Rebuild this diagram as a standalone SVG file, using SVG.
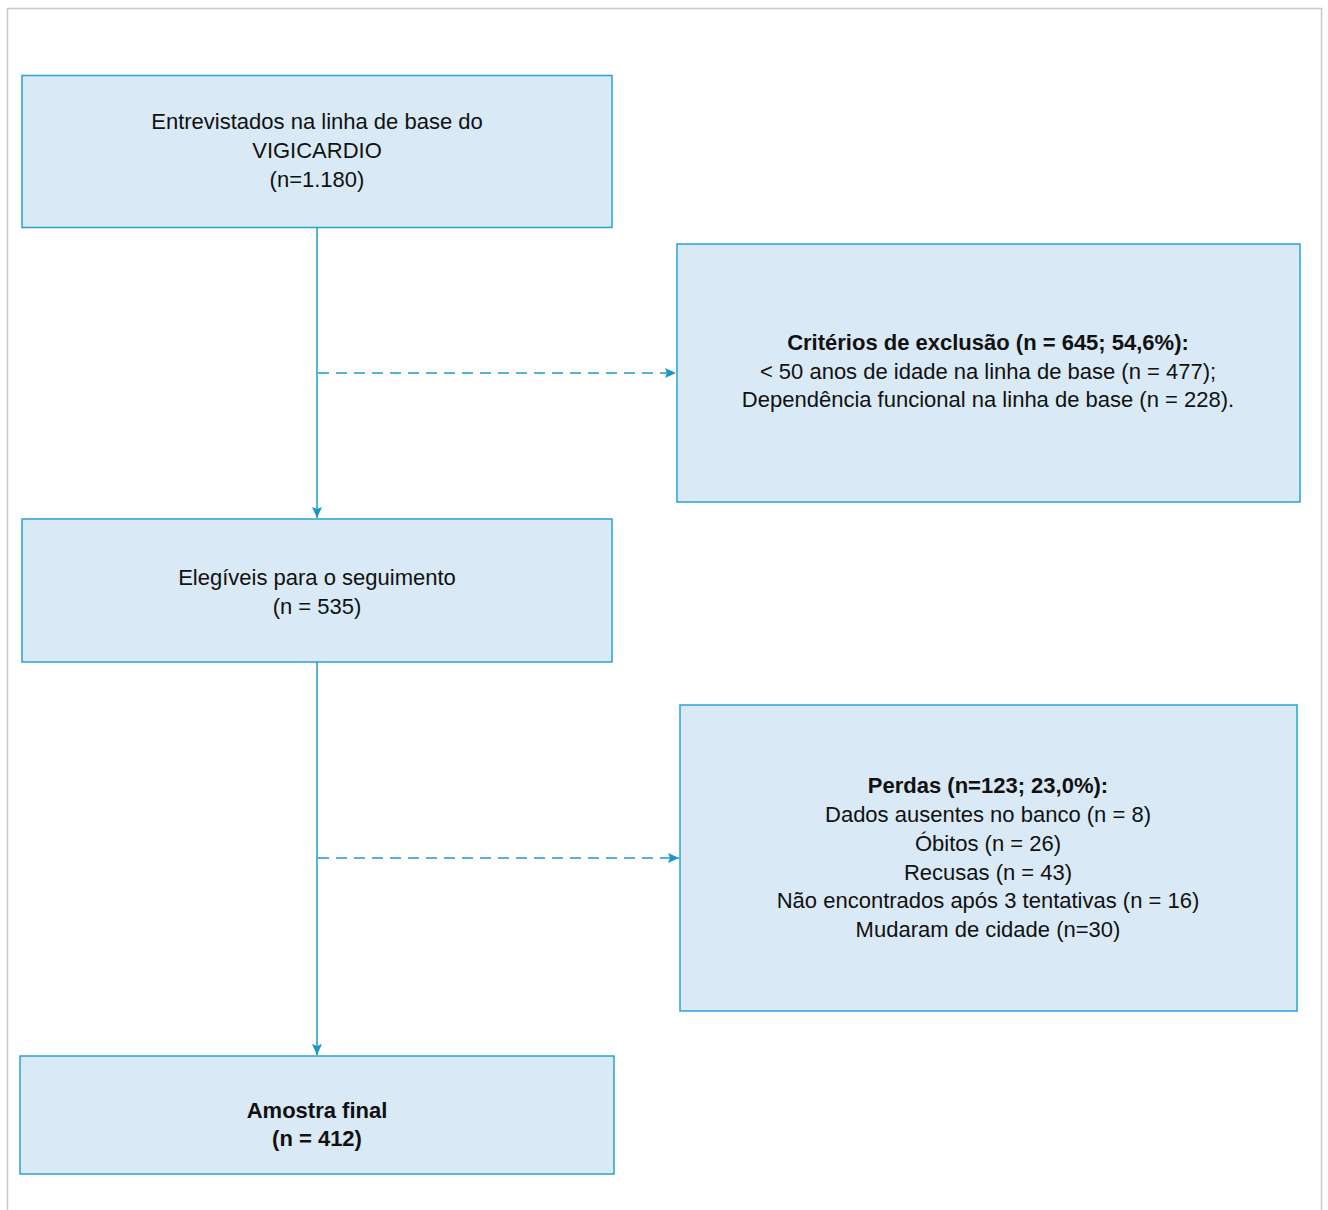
<svg xmlns="http://www.w3.org/2000/svg" width="1328" height="1210" viewBox="0 0 1328 1210">
<style>
.box{fill:#d9e9f5;stroke:#28a2d2;stroke-width:1.5}
.t{font-family:"Liberation Sans",Arial,sans-serif;font-size:22px;fill:#111;text-anchor:middle}
.b{font-weight:bold}
.c{stroke:#1f9bcc;stroke-width:1.5;fill:none}
.d{stroke-dasharray:11 7}
</style>
<defs>
<marker id="ah" markerWidth="12" markerHeight="12" refX="11" refY="5" orient="auto" markerUnits="userSpaceOnUse">
<path d="M0,0 L11,5 L0,10 L2,5 Z" fill="#1a96c8"/>
</marker>
</defs>
<rect x="7.5" y="8.5" width="1314" height="1210" fill="#fff" stroke="#c8c8c8" stroke-width="1.5"/>
<g id="connectors">
<line class="c" x1="317" y1="227" x2="317" y2="518" marker-end="url(#ah)"/>
<line class="c d" x1="318" y1="373" x2="676" y2="373" marker-end="url(#ah)"/>
<line class="c" x1="317" y1="662" x2="317" y2="1055" marker-end="url(#ah)"/>
<line class="c d" x1="318" y1="858" x2="679" y2="858" marker-end="url(#ah)"/>
</g>
<g id="n1">
<rect class="box" x="22" y="75.5" width="590" height="152"/>
<text class="t" x="317" y="129">Entrevistados na linha de base do</text>
<text class="t" x="317" y="158">VIGICARDIO</text>
<text class="t" x="317" y="187">(n=1.180)</text>
</g>
<g id="n2">
<rect class="box" x="677" y="244" width="623" height="258"/>
<text class="t b" x="988" y="350">Critérios de exclusão (n = 645; 54,6%):</text>
<text class="t" x="988" y="379">&lt; 50 anos de idade na linha de base (n = 477);</text>
<text class="t" x="988" y="407">Dependência funcional na linha de base (n = 228).</text>
</g>
<g id="n3">
<rect class="box" x="22" y="519" width="590" height="143"/>
<text class="t" x="317" y="585">Elegíveis para o seguimento</text>
<text class="t" x="317" y="614">(n = 535)</text>
</g>
<g id="n4">
<rect class="box" x="680" y="705" width="617" height="306"/>
<text class="t b" x="988" y="793">Perdas (n=123; 23,0%):</text>
<text class="t" x="988" y="822">Dados ausentes no banco (n = 8)</text>
<text class="t" x="988" y="851">Óbitos (n = 26)</text>
<text class="t" x="988" y="880">Recusas (n = 43)</text>
<text class="t" x="988" y="908">Não encontrados após 3 tentativas (n = 16)</text>
<text class="t" x="988" y="937">Mudaram de cidade (n=30)</text>
</g>
<g id="n5">
<rect class="box" x="20" y="1056" width="594" height="118"/>
<text class="t b" x="317" y="1118">Amostra final</text>
<text class="t b" x="317" y="1146">(n = 412)</text>
</g>
</svg>
